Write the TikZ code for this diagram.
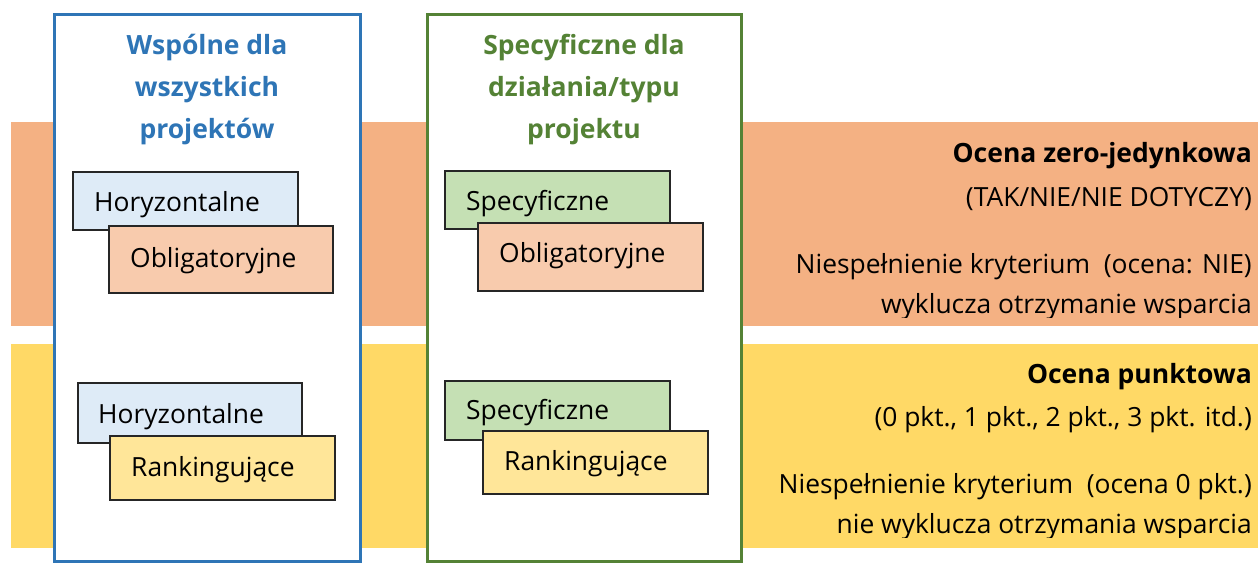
\documentclass[tikz,border=0pt]{standalone}
\usepackage{fontspec}
\setmainfont{Open Sans}
\definecolor{bandorange}{HTML}{F4B183}
\definecolor{bandyellow}{HTML}{FFD966}
\definecolor{colblue}{HTML}{2E75B6}
\definecolor{colgreen}{HTML}{548235}
\definecolor{fillblue}{HTML}{DEEBF7}
\definecolor{fillorange}{HTML}{F8CBAD}
\definecolor{fillgreen}{HTML}{C5E0B4}
\definecolor{fillyellow}{HTML}{FFE699}
\definecolor{edgegray}{HTML}{262626}
\tikzset{
  band/.style={draw=none},
  column/.style={line width=3pt, fill=white},
  smallbox/.style={draw=edgegray, line width=1.3pt},
  boxtext/.style={inner sep=0pt, anchor=base west, font=\fontsize{26.4}{30}\selectfont},
  titletext/.style={inner sep=0pt, anchor=base, font=\fontsize{26.5}{32}\selectfont\bfseries},
  righttext/.style={inner sep=0pt, anchor=base east, font=\fontsize{26.4}{32}\selectfont},
  rightbold/.style={righttext, font=\fontsize{26.5}{32}\selectfont\bfseries},
}
\begin{document}
\begin{tikzpicture}[x=1pt,y=-1pt]
\useasboundingbox (0,0) rectangle (1258,563);
% bands
\fill[bandorange] (11,122) rectangle (1258,326);
\fill[bandyellow] (11,344) rectangle (1258,548);
% columns
\draw[column, draw=colblue] (54,14) rectangle (360,561);
\draw[column, draw=colgreen] (427,14) rectangle (741,561);
% titles
\node[titletext, text=colblue] (ta1) at (207,54) {Wspólne dla};
\node[titletext, text=colblue] (ta2) at (207,96) {wszystkich};
\node[titletext, text=colblue] (ta3) at (207,138) {projektów};
\node[titletext, text=colgreen] (tb1) at (584,54) {Specyficzne dla};
\node[titletext, text=colgreen] (tb2) at (584,96) {działania/typu};
\node[titletext, text=colgreen] (tb3) at (584,138) {projektu};
% left column boxes
\draw[smallbox, fill=fillblue] (73,172) rectangle (298,230);
\node[boxtext] (h1) at (94,211) {Horyzontalne};
\draw[smallbox, fill=fillorange] (109,226) rectangle (333,293);
\node[boxtext] (o1) at (130,267) {Obligatoryjne};
\draw[smallbox, fill=fillblue] (78,383) rectangle (302,443);
\node[boxtext] (h2) at (98,423) {Horyzontalne};
\draw[smallbox, fill=fillyellow] (110,436) rectangle (335,500);
\node[boxtext] (r1) at (131,476) {Rankingujące};
% right column boxes
\draw[smallbox, fill=fillgreen] (445,171) rectangle (670,229);
\node[boxtext] (s1) at (466,210) {Specyficzne};
\draw[smallbox, fill=fillorange] (478,223) rectangle (703,291);
\node[boxtext] (o2) at (499,262) {Obligatoryjne};
\draw[smallbox, fill=fillgreen] (445,381) rectangle (670,440);
\node[boxtext] (s2) at (466,419) {Specyficzne};
\draw[smallbox, fill=fillyellow] (483,431) rectangle (708,494);
\node[boxtext] (r2) at (504,470) {Rankingujące};
% right texts
\begin{scope}
\clip (742,122) rectangle (1258,317);
\node[rightbold] (z1) at (1252,162) {Ocena zero-jedynkowa};
\node[righttext] (z2) at (1252,206) {(TAK/NIE/NIE DOTYCZY)};
\node[righttext] (z3) at (1252,273) {Niespełnienie kryterium \ (ocena: NIE)};
\node[righttext] (z4) at (1252,313) {wyklucza otrzymanie wsparcia};
\end{scope}
\begin{scope}
\clip (742,344) rectangle (1258,537);
\node[rightbold] (p1) at (1252,383) {Ocena punktowa};
\node[righttext] (p2) at (1252,426) {(0 pkt., 1 pkt., 2 pkt., 3 pkt. itd.)};
\node[righttext] (p3) at (1252,493) {Niespełnienie kryterium \ (ocena 0 pkt.)};
\node[righttext] (p4) at (1252,533) {nie wyklucza otrzymania wsparcia};
\end{scope}
\end{tikzpicture}
\end{document}
